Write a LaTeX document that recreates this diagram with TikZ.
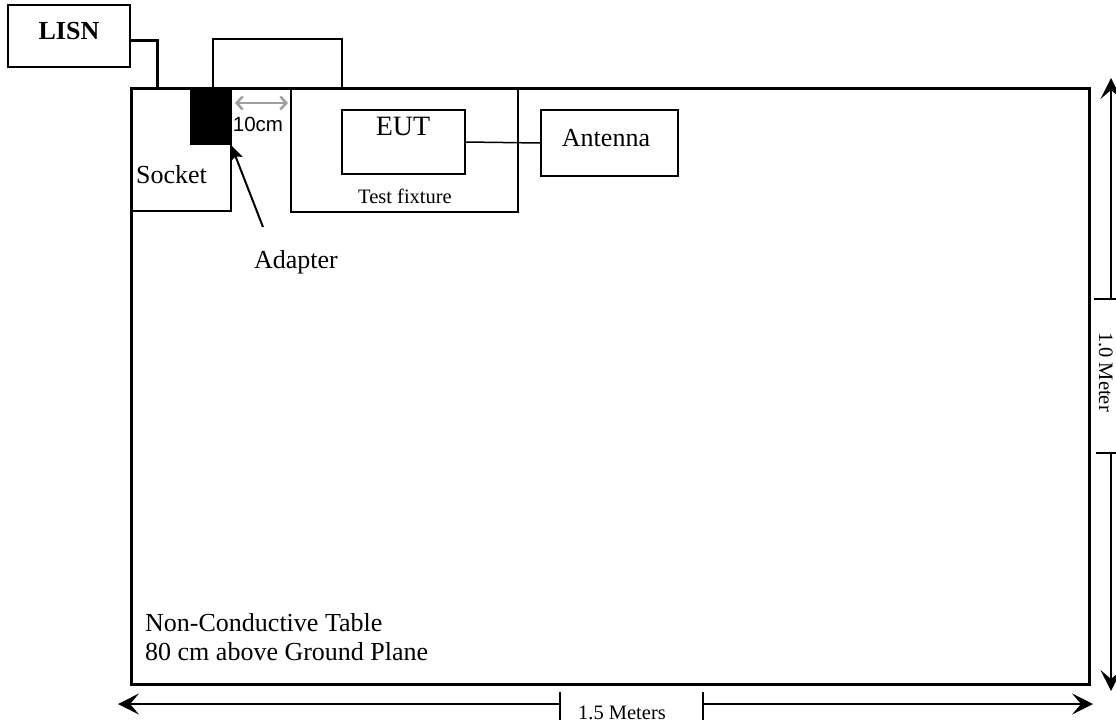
\documentclass[tikz,border=0pt]{standalone}
\usepackage{fontspec}
\setmainfont{Liberation Serif}
\newfontfamily\arialfont{Liberation Sans}
\usetikzlibrary{arrows.meta}

\begin{document}
\begin{tikzpicture}
[
    x=1pt, y=-1pt,
    box/.style={draw, line width=1.5pt, inner sep=0pt},
    heavy/.style={line width=3pt},
    bigtext/.style={font=\fontsize{26}{29}\selectfont, inner sep=0pt},
    smalltext/.style={font=\fontsize{20.5}{24}\selectfont, inner sep=0pt},
    dimline/.style={line width=1.4pt},
    dimtip/.style={-{Stealth[length=21pt,width=21pt,inset=9pt]}}
]
    \useasboundingbox (0,0) rectangle (1116,723);

    % table and things on it
    \node [draw, heavy, inner sep=0pt, minimum width=958pt, minimum height=596pt] (table) at (610,386) {};
    \node [box, minimum width=122pt, minimum height=62pt] (lisn) at (69,36) {};
    \node [bigtext, anchor=base] (lisnlbl) at (69,39) {\textbf{LISN}};
    \node [box, minimum width=129pt, minimum height=49pt] (upper) at (277.5,63.5) {};
    \node [box, minimum width=100pt, minimum height=123pt] (socket) at (181,149.5) {};
    \node [bigtext, anchor=base west] (socketlbl) at (136,183) {Socket};
    \node [fill=black, inner sep=0pt, minimum width=41pt, minimum height=57pt] (adapter) at (210.5,116.5) {};
    \node [box, minimum width=227pt, minimum height=123pt] (fixture) at (404.5,150.5) {};
    \node [smalltext, anchor=base] (fixturelbl) at (405,203) {Test fixture};
    \node [box, minimum width=123pt, minimum height=64pt] (eut) at (403.5,142) {};
    \node [bigtext, font=\fontsize{28}{30}\selectfont, anchor=base] (eutlbl) at (403,135) {EUT};
    \node [box, minimum width=137pt, minimum height=66pt] (antenna) at (609.5,143) {};
    \node [bigtext, anchor=base] (antennalbl) at (606,146) {Antenna};
    \node [bigtext, anchor=base] (adapterlbl) at (296,268) {Adapter};
    \node [smalltext, font=\arialfont\fontsize{20.5}{24}\selectfont, anchor=base] (gaplbl) at (258,131) {10cm};
    \node [bigtext, anchor=north west, align=left] (tablelbl) at (145,613) {Non-Conductive Table\\80 cm above Ground Plane};

    % connections
    \coordinate (plugin) at (157,88);
    \draw [heavy] (lisn.east) ++(0,4) -| (plugin);
    \draw [line width=1.5pt] (eut.east) -- (antenna.west);
    \coordinate (gapL) at (235,103);
    \coordinate (gapR) at (288,103);
    \draw [gray!75, line width=2.5pt, {Straight Barb[length=6pt,width=13pt]}-{Straight Barb[length=6pt,width=13pt]}] (gapL) -- (gapR);
    \coordinate (adaptertail) at (263,227);
    \draw [line width=2pt, -{Stealth[length=15pt,width=13pt,inset=3pt]}] (adaptertail) -- (adapter.south east);

    % dimensions
    \node [smalltext, anchor=base] (widthlbl) at (622,719) {1.5 Meters};
    \node [smalltext, anchor=base, rotate=-90] (depthlbl) at (1099,372) {1.0 Meter};
    \coordinate (wtickL) at (560,704);
    \coordinate (wtickR) at (703,704);
    \coordinate (wendL) at (118,704);
    \coordinate (wendR) at (1093,704);
    \draw [dimline] (560,692) -- (560,720);
    \draw [dimline] (703,692) -- (703,720);
    \draw [dimline, dimtip] (wtickL) -- (wendL);
    \draw [dimline, dimtip] (wtickR) -- (wendR);
    \coordinate (dtickT) at (1111,299);
    \coordinate (dtickB) at (1111,453);
    \coordinate (dendT) at (1111,78);
    \coordinate (dendB) at (1111,691);
    \draw [dimline] (1094,299) -- (1116,299);
    \draw [dimline] (1096,453) -- (1116,453);
    \draw [dimline, dimtip] (dtickT) -- (dendT);
    \draw [dimline, dimtip] (dtickB) -- (dendB);
\end{tikzpicture}
\end{document}
